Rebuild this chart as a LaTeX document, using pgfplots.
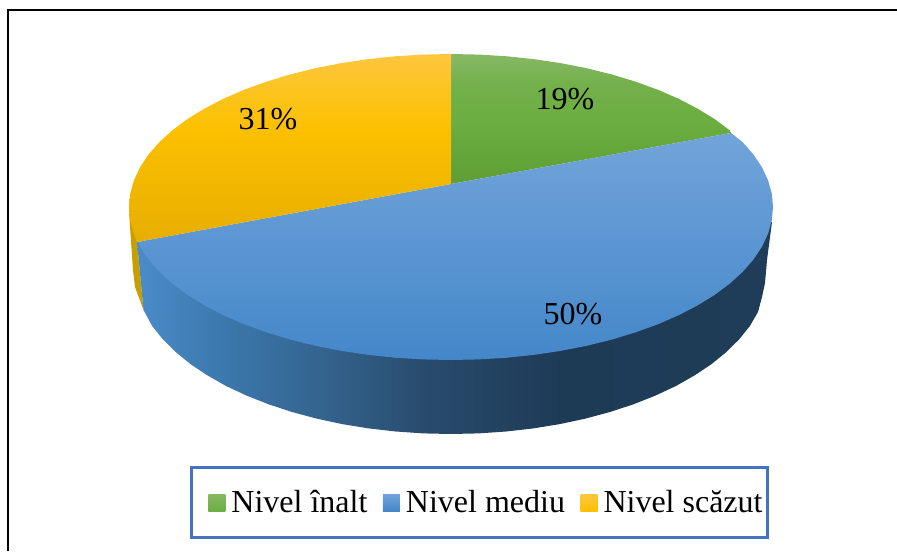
\documentclass[border=0pt]{standalone}
\usepackage{fontspec}
\setmainfont{Liberation Serif}
\usepackage{pgfplots}
\pgfplotsset{compat=1.18}
\usepackage{xcolor}
\definecolor{gTop}{HTML}{86B865}\definecolor{gUp}{HTML}{73B04B}\definecolor{gMid}{HTML}{6CAE41}\definecolor{gBot}{HTML}{5E9E33}
\definecolor{bTop}{HTML}{72A4DA}\definecolor{bMid}{HTML}{5397D7}\definecolor{bBot}{HTML}{4487C9}
\definecolor{oTop}{HTML}{FDC63F}\definecolor{oUp}{HTML}{FCC41F}\definecolor{oMid}{HTML}{FCC000}\definecolor{oBot}{HTML}{E6AE00}
\definecolor{oSide}{HTML}{C99F00}
\definecolor{legBorder}{HTML}{4472C4}
\definecolor{blueA}{HTML}{4B8BC8}\definecolor{blueB}{HTML}{3C79AE}\definecolor{blueC}{HTML}{34648F}
\definecolor{blueD}{HTML}{294C6E}\definecolor{blueE}{HTML}{1E3B56}\definecolor{blueF}{HTML}{1F3D58}
\pgfdeclarehorizontalshading{blueSide}{100bp}{
 color(0bp)=(blueA);
 color(25bp)=(blueA);
 color(31.5bp)=(blueB);
 color(39.4bp)=(blueC);
 color(47.3bp)=(blueD);
 color(58.3bp)=(blueE);
 color(75bp)=(blueF);
 color(100bp)=(blueF)}
\pgfdeclareverticalshading{greenTop}{100bp}{
 color(0bp)=(gBot);
 color(25bp)=(gBot);
 color(49.6bp)=(gMid);
 color(63bp)=(gUp);
 color(75bp)=(gTop);
 color(100bp)=(gTop)}
\pgfdeclareverticalshading{orangeTop}{100bp}{
 color(0bp)=(oBot);
 color(25bp)=(oBot);
 color(54.8bp)=(oMid);
 color(65.4bp)=(oUp);
 color(75bp)=(oTop);
 color(100bp)=(oTop)}
\begin{document}
\begin{tikzpicture}
\useasboundingbox (0,0) rectangle (448.5pt,275.5pt);
\begin{axis}[
  scale only axis, width=448.5pt, height=275.5pt,
  xmin=0, xmax=897, ymin=0, ymax=551, y dir=reverse,
  axis lines=none, clip=false,
  legend columns=3,
  legend cell align=left,
  legend style={at={(axis cs:479.5,502.5)}, anchor=center, draw=legBorder, line width=1.2pt,
    font=\fontsize{16}{19}\selectfont, inner xsep=8.5pt, inner ysep=9.25pt,
    /tikz/every even column/.append style={column sep=5.75pt}},
]
% frame
\addplot[black, line width=1pt, forget plot] coordinates {(8,551) (8,10) (897,10)};
% sides
\addplot[draw=none, fill=oSide, forget plot] coordinates {(129,212) (133,270) (135,287) (143.5,310) (137,242) (129,212)};
\addplot[draw=none, shading=blueSide, forget plot] coordinates {
(137,242) (143.5,310) (152.2,326.1) (162.8,339.3) (175.6,352) (190.5,364.1) (207.4,375.4) (226.1,386) (246.6,395.6) (268.6,404.3) (292,412) (316.6,418.6) (342.2,424.1) (368.7,428.4) (395.8,431.5) (423.3,433.4) (451,434)
(478.7,433.4) (506.2,431.5) (533.3,428.4) (559.8,424.1) (585.4,418.6) (610,412) (633.4,404.3) (655.4,395.6) (675.9,386) (694.6,375.4) (711.5,364.1) (726.4,352) (739.2,339.3) (749.8,326.1) (758,312) (762,297) (765,283) (767,260) (772,222)
(600,250) (300,250) (137,242)};
% top slices
\addplot[draw=none, shading=greenTop, area legend,
  legend image code/.code={\shade[top color=gTop,bottom color=gMid] (0pt,-4.25pt) rectangle (8.5pt,4.25pt);}] coordinates {
(451,184) (451,54) (479.1,54.6) (506.9,56.3) (534.3,59.2) (561.1,63.2) (587.1,68.3) (612,74.5) (635.7,81.7) (658,89.8) (678.7,98.8) (697.7,108.7) (714.8,119.2) (729.9,130.5) (731,133) (451,184)};
\addlegendentry{\hspace*{1pt}Nivel înalt}
\addplot[draw=none, top color=bTop, middle color=bMid, bottom color=bBot, area legend,
  legend image code/.code={\shade[top color=bTop,bottom color=bBot] (0pt,-4.25pt) rectangle (8.5pt,4.25pt);}] coordinates {
(451,184) (731,133) (742.8,142.3) (753.6,154.7) (762,167.4) (768.1,180.4) (771.8,193.7) (773,207) (771.8,220.3) (768.1,233.6) (762,246.6) (753.6,259.3) (742.8,271.7) (729.9,283.5) (714.8,294.8) (697.7,305.3) (678.7,315.2) (658,324.2) (635.7,332.3) (612,339.5) (587.1,345.7) (561.1,350.8) (534.3,354.8) (506.9,357.7) (479.1,359.4) (451,360)
(422.9,359.4) (395.1,357.7) (367.7,354.8) (340.9,350.8) (314.9,345.7) (290,339.5) (266.3,332.3) (244,324.2) (223.3,315.2) (204.3,305.3) (187.2,294.8) (172.1,283.5) (159.2,271.7) (148.4,259.3) (140,246.6) (137,242) (451,184)};
\addlegendentry{\hspace*{1pt}Nivel mediu}
\addplot[draw=none, shading=orangeTop, area legend,
  legend image code/.code={\shade[top color=oTop,bottom color=oMid] (0pt,-4.25pt) rectangle (8.5pt,4.25pt);}] coordinates {
(451,184) (137,242) (133.9,233.6) (130.2,220.3) (129,207) (130.2,193.7) (133.9,180.4) (140,167.4) (148.4,154.7) (159.2,142.3) (172.1,130.5) (187.2,119.2) (204.3,108.7) (223.3,98.8) (244,89.8) (266.3,81.7) (290,74.5) (314.9,68.3) (340.9,63.2) (367.7,59.2) (395.1,56.3) (422.9,54.6) (451,54) (451,184)};
\addlegendentry{\hspace*{1pt}Nivel scăzut\hspace*{-8pt}}
\node[font=\fontsize{16}{19}\selectfont] at (axis cs:565,99) {19\%};
\node[font=\fontsize{16}{19}\selectfont] at (axis cs:573,314) {50\%};
\node[font=\fontsize{16}{19}\selectfont] at (axis cs:268,119) {31\%};
\end{axis}
\end{tikzpicture}
\end{document}
